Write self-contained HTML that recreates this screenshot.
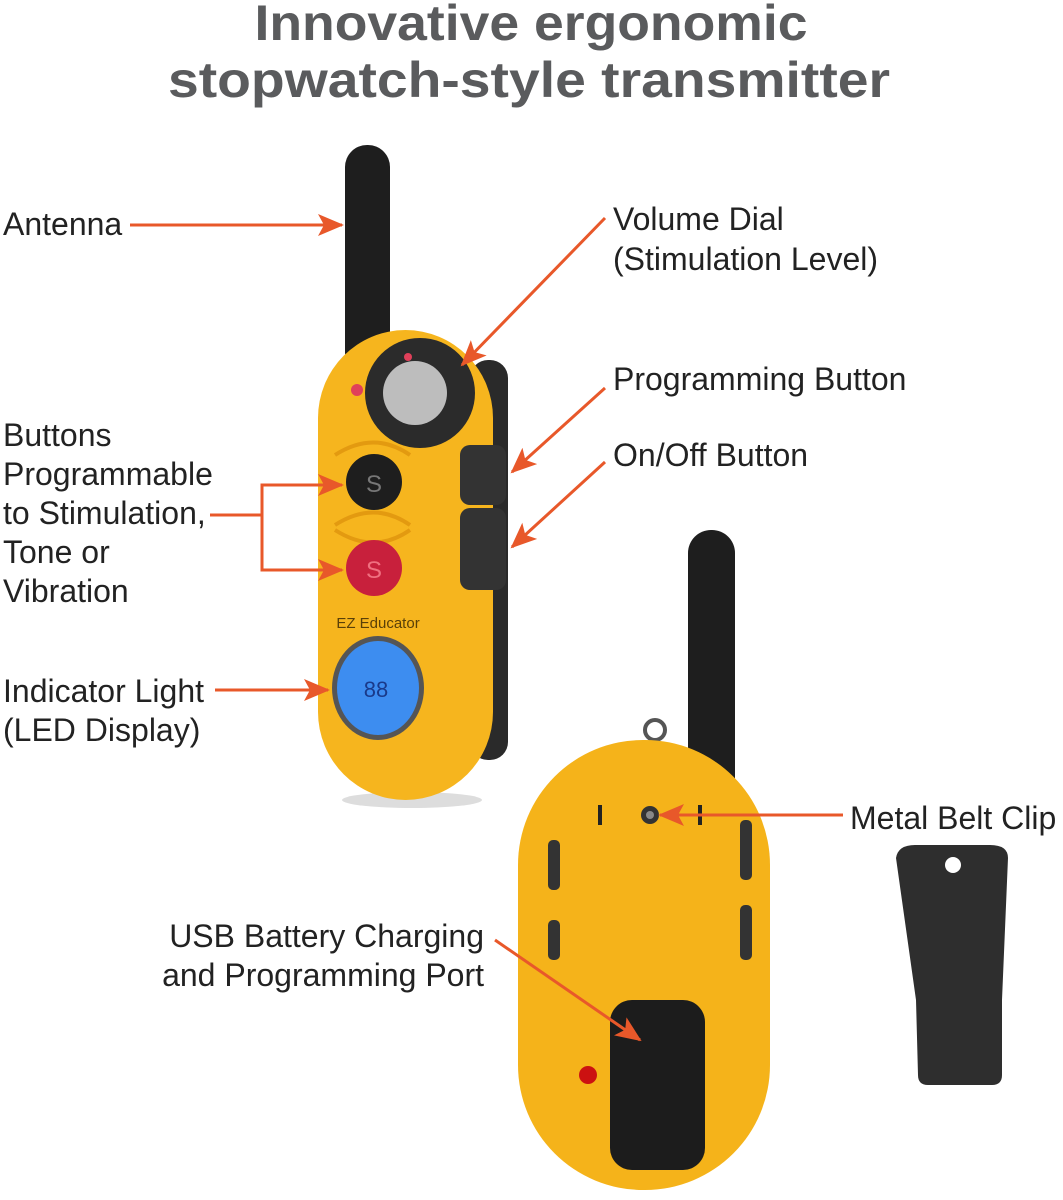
<!DOCTYPE html>
<html><head><meta charset="utf-8"><style>
html,body{margin:0;padding:0;background:#fff}
svg{display:block}
text{font-family:"Liberation Sans",sans-serif}
.l{font-size:32px;fill:#222}
</style></head><body>
<svg width="1063" height="1200" viewBox="0 0 1063 1200" xmlns="http://www.w3.org/2000/svg">
<defs>
<marker id="b" markerWidth="26" markerHeight="22" refX="24" refY="11" orient="auto" markerUnits="userSpaceOnUse" viewBox="0 0 26 22">
<path d="M0,0 L26,11 L0,22 L6,11 Z" fill="#e8582a"/></marker>
</defs>
<text x="531" y="40" text-anchor="middle" font-size="50" font-weight="bold" fill="#5a5b5d" textLength="553" lengthAdjust="spacingAndGlyphs">Innovative ergonomic</text>
<text x="529" y="97" text-anchor="middle" font-size="50" font-weight="bold" fill="#5a5b5d" textLength="722" lengthAdjust="spacingAndGlyphs">stopwatch-style transmitter</text>

<!-- device 1 -->
<rect x="345" y="145" width="45" height="230" rx="22" fill="#1e1e1e"/>
<ellipse cx="412" cy="800" rx="70" ry="8" fill="#ddd"/>
<rect x="470" y="360" width="38" height="400" rx="18" fill="#2a2a2a"/>
<rect x="318" y="330" width="175" height="470" rx="88" fill="#f6b51e"/>
<circle cx="420" cy="393" r="55" fill="#2b2b2b"/>
<circle cx="415" cy="393" r="32" fill="#bdbdbd"/>
<circle cx="408" cy="357" r="4" fill="#e0405a"/>
<circle cx="357" cy="390" r="6" fill="#e0405a"/>
<path d="M335 455 Q374 430 410 455 M335 525 Q374 500 410 525 M335 530 Q374 555 410 530" stroke="#e39a10" stroke-width="4" fill="none"/>
<circle cx="374" cy="482" r="28" fill="#1e1e1e"/>
<text x="374" y="492" text-anchor="middle" font-size="24" fill="#777">S</text>
<circle cx="374" cy="568" r="28" fill="#c8203c"/>
<text x="374" y="578" text-anchor="middle" font-size="24" fill="#f07080">S</text>
<rect x="460" y="445" width="46" height="60" rx="10" fill="#333"/>
<rect x="460" y="508" width="46" height="82" rx="10" fill="#333"/>
<text x="378" y="628" text-anchor="middle" font-size="15" fill="#5a4008">EZ Educator</text>
<ellipse cx="378" cy="688" rx="46" ry="52" fill="#555"/>
<ellipse cx="378" cy="688" rx="41" ry="47" fill="#3d8df0"/>
<text x="376" y="697" text-anchor="middle" font-size="22" fill="#1a3a8a">88</text>

<!-- device 2 -->
<rect x="688" y="530" width="47" height="280" rx="23" fill="#1e1e1e"/>
<circle cx="655" cy="730" r="10" fill="none" stroke="#555" stroke-width="4"/>
<rect x="518" y="740" width="252" height="450" rx="125" fill="#f5b31a"/>
<rect x="548" y="840" width="12" height="50" rx="5" fill="#333"/>
<rect x="548" y="920" width="12" height="40" rx="5" fill="#333"/>
<rect x="740" y="820" width="12" height="60" rx="5" fill="#333"/>
<rect x="740" y="905" width="12" height="55" rx="5" fill="#333"/>
<rect x="598" y="805" width="4" height="20" fill="#222"/>
<rect x="698" y="805" width="4" height="20" fill="#222"/>
<circle cx="650" cy="815" r="9" fill="#333"/>
<circle cx="650" cy="815" r="4" fill="#888"/>
<rect x="610" y="1000" width="95" height="170" rx="22" fill="#1c1c1c"/>
<circle cx="588" cy="1075" r="9" fill="#c11"/>

<!-- clip -->
<path d="M896 858 Q898 845 915 845 L990 845 Q1008 845 1008 858 L1002 1000 L1002 1075 Q1002 1085 992 1085 L928 1085 Q918 1085 918 1075 L916 1000 Z" fill="#2e2e2e"/>
<circle cx="953" cy="865" r="8" fill="#fff"/>

<!-- labels -->
<text class="l" x="3" y="235">Antenna</text>
<text class="l" x="613" y="230">Volume Dial</text>
<text class="l" x="613" y="270">(Stimulation Level)</text>
<text class="l" x="613" y="390">Programming Button</text>
<text class="l" x="613" y="466">On/Off Button</text>
<text class="l" x="3" y="446">Buttons</text>
<text class="l" x="3" y="485">Programmable</text>
<text class="l" x="3" y="524">to Stimulation,</text>
<text class="l" x="3" y="563">Tone or</text>
<text class="l" x="3" y="602">Vibration</text>
<text class="l" x="3" y="702">Indicator Light</text>
<text class="l" x="3" y="741">(LED Display)</text>
<text class="l" x="850" y="829">Metal Belt Clip</text>
<text class="l" x="484" y="947" text-anchor="end">USB Battery Charging</text>
<text class="l" x="484" y="986" text-anchor="end">and Programming Port</text>

<!-- arrows -->
<g stroke="#e8582a" stroke-width="3" fill="none">
<line x1="130" y1="225" x2="342" y2="225" marker-end="url(#b)"/>
<line x1="605" y1="218" x2="462" y2="365" marker-end="url(#b)"/>
<line x1="605" y1="388" x2="512" y2="472" marker-end="url(#b)"/>
<line x1="605" y1="462" x2="512" y2="547" marker-end="url(#b)"/>
<line x1="210" y1="515" x2="262" y2="515"/>
<polyline points="342,485 262,485 262,570 342,570"/>
<line x1="262" y1="485" x2="342" y2="485" marker-end="url(#b)"/>
<line x1="262" y1="570" x2="342" y2="570" marker-end="url(#b)"/>
<line x1="215" y1="690" x2="328" y2="690" marker-end="url(#b)"/>
<line x1="843" y1="815" x2="660" y2="815" marker-end="url(#b)"/>
<line x1="495" y1="940" x2="640" y2="1040" marker-end="url(#b)"/>
</g>
</svg>
</body></html>
